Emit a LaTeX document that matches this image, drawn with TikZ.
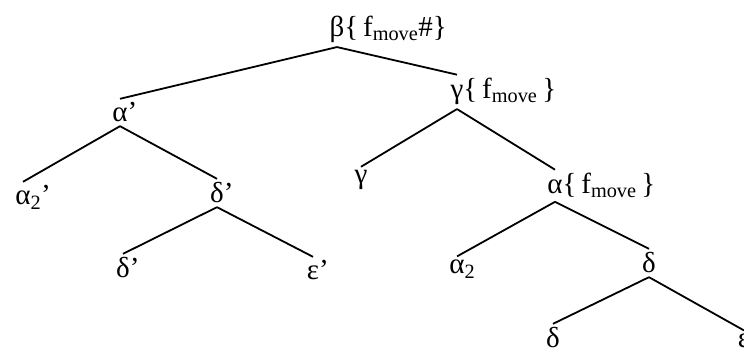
\documentclass[tikz,border=0pt]{standalone}
\usepackage{fontspec}
\setmainfont{Liberation Serif}
\begin{document}
\begin{tikzpicture}[x=1pt,y=1pt,line width=1.8pt,
  lbl/.style={anchor=base,inner sep=3pt,font=\fontsize{29}{34}\selectfont}]
\useasboundingbox (0,0) rectangle (744,352);
\node[lbl] (b) at (337,315) {β\rlap{\{\,f\textsubscript{move}\#\}}};
\node[lbl] (a1) at (120,230) {α\rlap{’}};
\node[lbl] (g1) at (457,253) {γ\rlap{\{\,f\textsubscript{move}\,\}}};
\node[lbl] (a2) at (23,147) {α\rlap{\textsubscript{2}’}};
\node[lbl] (d1) at (217,149) {δ\rlap{’}};
\node[lbl] (d2) at (123,74) {δ\rlap{’}};
\node[lbl] (e1) at (313,72) {ε\rlap{’}};
\node[lbl] (g2) at (361,168) {γ};
\node[lbl] (a3) at (555,158) {α\rlap{\{\,f\textsubscript{move}\,\}}};
\node[lbl] (a4) at (457,78) {α\rlap{\textsubscript{2}}};
\node[lbl] (d3) at (649,79) {δ};
\node[lbl] (d4) at (553,4) {δ};
\node[lbl] (e2) at (744,4) {ε};
\foreach \P/\C in {b/a1,b/g1,a1/a2,a1/d1,d1/d2,d1/e1,g1/g2,g1/a3,a3/a4,a3/d3,d3/d4,d3/e2}
  \draw (\P.south)--(\C.north);
\end{tikzpicture}
\end{document}
